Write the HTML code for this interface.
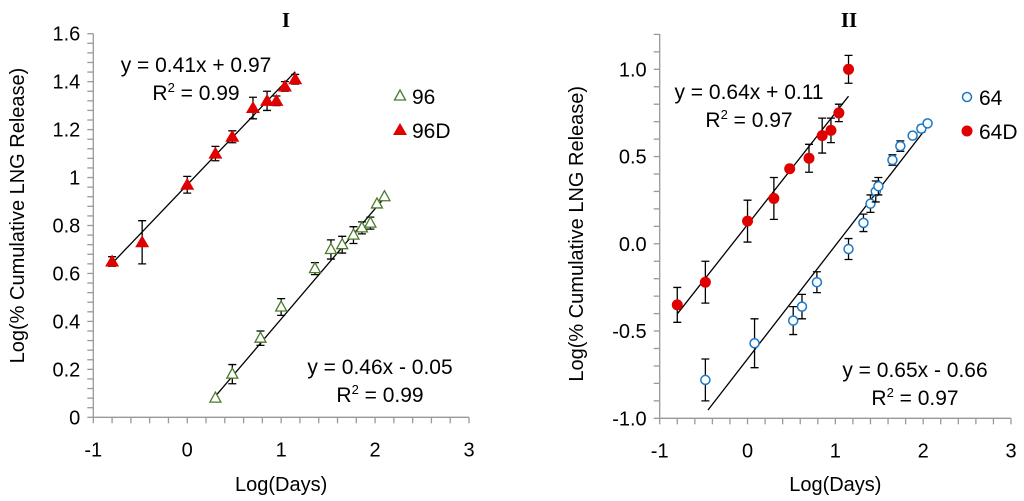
<!DOCTYPE html>
<html><head><meta charset="utf-8"><style>
html,body{margin:0;padding:0;background:#fff}
svg{display:block;font-family:"Liberation Sans",sans-serif}
</style></head><body>
<svg id="c" width="1024" height="501" viewBox="0 0 1024 501"></svg>
<script>
// Panel I data
const d96x=[0.3,0.48,0.78,1.0,1.36,1.53,1.65,1.77,1.86,1.95,2.02,2.1];
const d96y=[0.08,0.18,0.33,0.46,0.62,0.70,0.72,0.76,0.79,0.81,0.89,0.92];
const d96e=[0,0.04,0.03,0.035,0.025,0.04,0.035,0.035,0.025,0.025,0,0];
const d96Dx=[-0.8,-0.48,0,0.3,0.48,0.7,0.85,0.95,1.04,1.15];
const d96Dy=[0.65,0.73,0.97,1.10,1.17,1.29,1.32,1.32,1.38,1.41];
const d96De=[0.02,0.09,0.035,0.03,0.025,0.045,0.04,0.02,0.02,0.02];
const fit96=[0.46,-0.05], fit96D=[0.41,0.97];
// Panel II data
const d64x=[-0.48,0.08,0.52,0.62,0.79,1.15,1.32,1.4,1.46,1.49,1.65,1.74,1.88,1.98,2.05];
const d64y=[-0.78,-0.57,-0.44,-0.36,-0.22,-0.03,0.12,0.23,0.30,0.33,0.48,0.56,0.62,0.66,0.69];
const d64e=[0.12,0.14,0.08,0.07,0.06,0.06,0.05,0.05,0.06,0.05,0.03,0.03,0,0.02,0];
const d64Dx=[-0.8,-0.48,0,0.3,0.48,0.7,0.85,0.95,1.04,1.15];
const d64Dy=[-0.35,-0.22,0.13,0.26,0.43,0.49,0.62,0.65,0.75,1.0];
const d64De=[0.1,0.12,0.12,0.12,0,0.08,0.1,0.07,0.05,0.08];
const fit64=[0.65,-0.66], fit64D=[0.64,0.11];
const xTicks=["-1","0","1","2","3"];
const yTicksI=["0","0.2","0.4","0.6","0.8","1","1.2","1.4","1.6"];
const yTicksII=["-1.0","-0.5","0.0","0.5","1.0"];

const svg=document.getElementById('c');const NS='http://www.w3.org/2000/svg';
function el(t,a,p){const e=document.createElementNS(NS,t);for(const k in a)e.setAttribute(k,a[k]);(p||svg).appendChild(e);return e;}
function txt(s,a,p){const e=el('text',a,p);e.textContent=s;return e;}

function panel(o){
  const g=el('g',{});
  
  
  const X=v=>o.x0+(v-o.xmin)/(o.xmax-o.xmin)*(o.x1-o.x0);
  const Y=v=>o.y0-(v-o.ymin)/(o.ymax-o.ymin)*(o.y0-o.y1);
  const ax=el('g',{stroke:'#999','stroke-width':1.3},g);
  
  el('line',{x1:o.x0,y1:o.y0,x2:o.x1,y2:o.y0},ax);
  el('line',{x1:o.x0,y1:o.y0,x2:o.x0,y2:o.ytop},ax);
  for(let v=o.xmin;v<=o.xmax+1e-9;v+=0.2)el('line',{x1:X(v),x2:X(v),y1:o.y0,y2:o.y0+6},ax);
  for(let v=o.ymin;Y(v)>=o.ytop-0.5;v+=o.yminor)el('line',{x1:o.x0-6,x2:o.x0,y1:Y(v),y2:Y(v)},ax);
  xTicks.forEach((s,i)=>{const t=txt(s,{x:X(o.xmin+i),y:o.y0+39,'text-anchor':'middle','font-size':20,fill:'#000'},g);
    });
  o.yt.forEach((s,i)=>{const t=txt(s,{x:o.x0-13,y:Y(o.ymin+i*o.ystep)+7,'text-anchor':'end','font-size':20,fill:'#000'},g);
    });
  const xt=txt('Log(Days)',{x:(o.x0+o.x1)/2,y:491,'text-anchor':'middle','font-size':20},g);
  
  const yt=txt('Log(% Cumulative LNG Release)',{transform:`translate(${o.ytx},${(o.y0+o.y1)/2-10}) rotate(-90)`,'text-anchor':'middle','font-size':20},g);
  
  const ti=txt(o.title,{x:o.titlex,y:27,'text-anchor':'middle','font-size':21,'font-weight':'bold','font-family':'Liberation Serif,serif'},g);
  
  o.series.forEach(s=>{
    const sg=el('g',{},g);
    
    const fl=el('line',{x1:X(s.fr[0]),y1:Y(s.fit[0]*s.fr[0]+s.fit[1]),x2:X(s.fr[1]),y2:Y(s.fit[0]*s.fr[1]+s.fit[1]),stroke:'#000','stroke-width':1.3},sg);
    
    s.x.forEach((xv,i)=>{
      const cx=X(xv),cy=Y(s.y[i]);
      if(s.e[i]>0){const eb=el('path',{d:`M${cx},${Y(s.y[i]-s.e[i])}V${Y(s.y[i]+s.e[i])}M${cx-4},${Y(s.y[i]-s.e[i])}h8M${cx-4},${Y(s.y[i]+s.e[i])}h8`,stroke:'#000','stroke-width':1.3,fill:'none'},sg);
        }
      const m=marker(s.m,cx,cy,sg);
      
    });
  });
  o.eqs.forEach(q=>{
    const t1=txt(q.t,{x:q.x,y:q.y,'text-anchor':'middle','font-size':21},g);
    
    const t2=el('text',{x:q.x,y:q.y+28,'text-anchor':'middle','font-size':21},g);
    t2.innerHTML='R<tspan dy="-8" font-size="13">2</tspan><tspan dy="8"> = '+q.r+'</tspan>';
    
  });
  o.series.forEach((s,i)=>{
    const lg=el('g',{},g);
    
    marker(s.m,o.legx,o.legy+i*34,lg);
    txt(s.label,{x:o.legx+12,y:o.legy+i*34+8,'font-size':21},lg);
  });
}
function marker(m,cx,cy,p){
  if(m==='tri-open')return el('path',{d:`M${cx},${cy-6}L${cx+5.5},${cy+4}L${cx-5.5},${cy+4}Z`,fill:'#fff',stroke:'#4a7a2a','stroke-width':1.3},p);
  if(m==='tri')return el('path',{d:`M${cx},${cy-7}L${cx+7},${cy+5}L${cx-7},${cy+5}Z`,fill:'#e00000'},p);
  if(m==='circ-open')return el('circle',{cx,cy,r:4.5,fill:'#fff',stroke:'#1878c8','stroke-width':1.5},p);
  return el('circle',{cx,cy,r:5.5,fill:'#e00000'},p);
}
panel({name:'panel-i',title:'I',titlex:286,x0:93.3,x1:469,y0:417.3,y1:33.7,ytop:33.7,xmin:-1,xmax:3,ymin:0,ymax:1.6,ystep:0.2,yminor:0.04,yt:yTicksI,ytx:24,
  series:[{label:'96',m:'tri-open',x:d96x,y:d96y,e:d96e,fit:fit96,fr:[0.3,2.1]},{label:'96D',m:'tri',x:d96Dx,y:d96Dy,e:d96De,fit:fit96D,fr:[-0.8,1.15]}],
  eqs:[{t:'y = 0.41x + 0.97',x:196,y:72,r:'0.99'},{t:'y = 0.46x - 0.05',x:380,y:374,r:'0.99'}],legx:400,legy:96});
panel({name:'panel-ii',title:'II',titlex:849,x0:659.7,x1:1011,y0:418.3,y1:69.3,ytop:34,xmin:-1,xmax:3,ymin:-1,ymax:1,ystep:0.5,yminor:0.1,yt:yTicksII,ytx:583,
  series:[{label:'64',m:'circ-open',x:d64x,y:d64y,e:d64e,fit:fit64,fr:[-0.45,2.05]},{label:'64D',m:'circ',x:d64Dx,y:d64Dy,e:d64De,fit:fit64D,fr:[-0.8,1.15]}],
  eqs:[{t:'y = 0.64x + 0.11',x:749,y:99,r:'0.97'},{t:'y = 0.65x - 0.66',x:915,y:377,r:'0.97'}],legx:967,legy:97});
</script>
</body></html>
